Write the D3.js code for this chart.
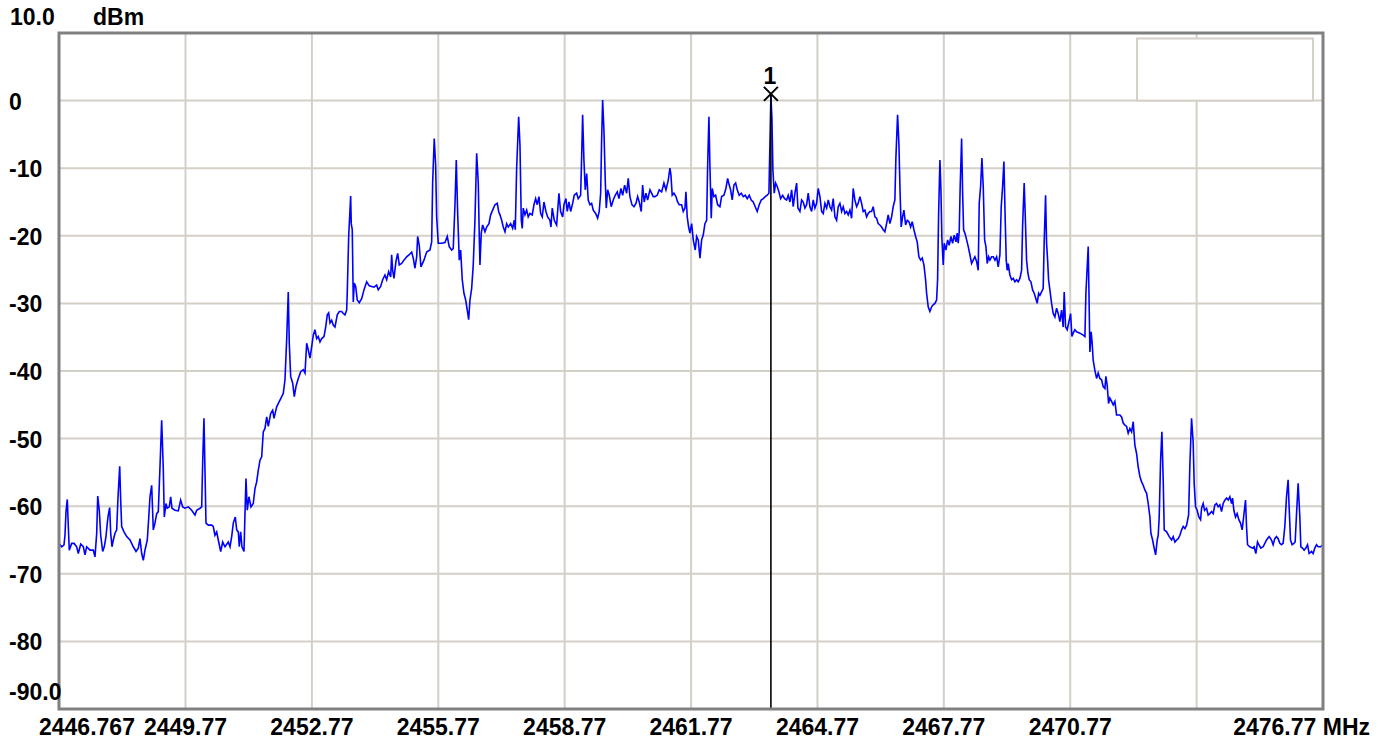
<!DOCTYPE html>
<html>
<head>
<meta charset="utf-8">
<script src="https://cdn.jsdelivr.net/npm/d3@7"></script>
<style>
  html, body { margin: 0; padding: 0; background: #ffffff; }
  svg { display: block; }
  text { font-family: "Liberation Sans", Arial, sans-serif; font-weight: bold; fill: #000; }
</style>
</head>
<body>
<script>
// ---------- data ----------
const freqStartMHz = 2446.767;
const freqStopMHz = 2476.77;
const levelTopDbm = 10;
const levelBottomDbm = -90;

const yTickValues = [0, -10, -20, -30, -40, -50, -60, -70, -80];
const yTopLabel = "10.0";
const yBottomLabel = "-90.0";
const yUnit = "dBm";

const xGridValues = [2449.77, 2452.77, 2455.77, 2458.77, 2461.77, 2464.77, 2467.77, 2470.77, 2473.77];
const xLabelValues = [2449.77, 2452.77, 2455.77, 2458.77, 2461.77, 2464.77, 2467.77, 2470.77];
const xFirstLabel = "2446.767";
const xLastLabel = "2476.77 MHz";

const markerName = "1";
const markerFreqMHz = 2463.665;
const markerLevelDbm = 1.0;

// trace: [frequency MHz, level dBm]
const traceLow = [
[2446.767,-65.5],[2446.831,-66.0],[2446.886,-65.7],[2446.909,-64.3],[2446.933,-60.8],[2446.964,-59.0],[2446.988,-63.0],[2447.011,-66.5],
[2447.068,-65.5],[2447.123,-65.5],[2447.187,-66.0],[2447.225,-67.0],[2447.282,-65.6],[2447.344,-66.0],[2447.384,-67.2],[2447.424,-66.0],
[2447.503,-66.5],[2447.581,-66.5],[2447.621,-67.5],[2447.662,-64.0],[2447.686,-58.5],[2447.723,-60.6],[2447.757,-64.3],[2447.804,-66.7],
[2447.842,-66.0],[2447.882,-64.5],[2447.913,-62.5],[2447.937,-61.3],[2447.970,-60.2],[2447.994,-64.0],[2448.025,-66.0],[2448.056,-65.0],
[2448.096,-64.0],[2448.136,-63.5],[2448.167,-58.8],[2448.208,-54.1],[2448.231,-59.1],[2448.255,-63.0],[2448.310,-63.8],[2448.374,-64.5],
[2448.452,-65.0],[2448.530,-66.0],[2448.595,-66.7],[2448.649,-66.2],[2448.689,-64.8],[2448.730,-67.0],[2448.768,-68.0],[2448.808,-66.5],
[2448.863,-65.0],[2448.896,-61.8],[2448.927,-58.6],[2448.967,-56.9],[2449.005,-63.5],[2449.045,-62.5],[2449.086,-61.1],[2449.124,-60.8],
[2449.164,-54.2],[2449.204,-47.3],[2449.242,-54.4],[2449.266,-61.6],[2449.307,-59.6],[2449.337,-60.3],[2449.385,-60.1],[2449.418,-58.6],
[2449.449,-60.3],[2449.520,-60.6],[2449.598,-60.7],[2449.655,-59.1],[2449.703,-60.1],[2449.757,-60.3],[2449.836,-60.1],[2449.916,-60.6],
[2449.995,-61.3],[2450.035,-60.6],[2450.114,-60.3],[2450.154,-60.1],[2450.178,-53.4],[2450.208,-47.0],[2450.232,-54.7],[2450.256,-62.5],
[2450.311,-62.8],[2450.391,-62.8],[2450.429,-63.0],[2450.469,-64.3],[2450.510,-63.8],[2450.548,-65.0],[2450.605,-66.7],[2450.652,-65.3],
[2450.707,-66.0],[2450.785,-65.3],[2450.826,-66.0],[2450.866,-64.5],[2450.904,-62.5],[2450.951,-61.6],[2450.985,-63.5],[2451.023,-63.8],
[2451.046,-66.0],[2451.079,-63.8],[2451.110,-66.0],[2451.158,-66.7],[2451.181,-61.3],[2451.205,-55.9],[2451.236,-60.6],[2451.276,-58.6],
[2451.324,-60.1],[2451.378,-59.6],[2451.419,-57.4],[2451.459,-56.4],[2451.497,-54.7],[2451.538,-53.2],[2451.578,-52.7],[2451.616,-49.0],
[2451.656,-48.5],[2451.697,-46.8],[2451.735,-48.2],[2451.791,-46.3],[2451.839,-45.8],[2451.870,-47.0],[2451.934,-45.3],[2452.012,-44.3]
];

const traceRise = [
[2452.091,-43.3],[2452.131,-41.3],[2452.171,-35.4],[2452.209,-28.3],[2452.233,-35.9],[2452.266,-40.8],[2452.314,-41.8],[2452.352,-43.8],
[2452.392,-42.3],[2452.447,-41.1],[2452.504,-40.1],[2452.565,-39.8],[2452.606,-40.3],[2452.646,-35.9],[2452.684,-36.9],[2452.724,-38.1],
[2452.765,-36.4],[2452.803,-34.7],[2452.843,-33.9],[2452.883,-35.2],[2452.921,-34.9],[2452.962,-35.7],[2453.002,-35.2],[2453.057,-34.9],
[2453.097,-33.5],[2453.135,-31.7],[2453.168,-31.4],[2453.199,-32.9],[2453.239,-32.5],[2453.277,-33.2],[2453.318,-33.5],[2453.372,-31.7],
[2453.420,-31.2],[2453.476,-31.2],[2453.515,-31.5],[2453.555,-31.7],[2453.595,-31.0],[2453.609,-28.5],[2453.643,-20.1],[2453.690,-14.1],
[2453.704,-18.2],[2453.728,-19.1],[2453.752,-29.8],[2453.776,-27.0],[2453.809,-27.5],[2453.847,-29.5],[2453.894,-29.9],[2453.951,-29.3],
[2454.006,-28.0],[2454.070,-26.8],[2454.132,-27.4],[2454.189,-27.5],[2454.243,-27.6],[2454.307,-27.3],[2454.345,-28.0],[2454.402,-27.5],
[2454.450,-26.5],[2454.504,-25.8],[2454.545,-26.5],[2454.592,-25.3],[2454.640,-26.1],[2454.663,-22.8],[2454.687,-25.1],[2454.718,-26.3],
[2454.765,-23.8],[2454.806,-22.6],[2454.844,-24.3],[2454.901,-24.1],[2454.955,-23.6],[2455.019,-23.1],[2455.081,-22.8],[2455.138,-22.4],
[2455.176,-23.3],[2455.216,-24.8],[2455.257,-23.1],[2455.280,-20.1],[2455.318,-21.4],[2455.358,-24.6]
];

const traceTopLeft = [
[2455.430,-23.6],[2455.494,-22.4],[2455.572,-22.1],[2455.613,-20.9],[2455.636,-12.2],[2455.674,-5.6],[2455.707,-9.5],[2455.731,-17.2],
[2455.769,-21.1],[2455.850,-21.1],[2455.928,-21.0],[2455.983,-20.1],[2456.030,-21.6],[2456.087,-22.1],[2456.125,-21.9],[2456.166,-15.4],
[2456.197,-8.8],[2456.230,-16.7],[2456.268,-23.6],[2456.301,-22.1],[2456.339,-26.5],[2456.379,-28.5],[2456.420,-29.5],[2456.458,-31.0],
[2456.491,-32.4],[2456.522,-29.5],[2456.562,-27.8],[2456.600,-24.3],[2456.640,-17.7],[2456.681,-7.8],[2456.719,-12.2],[2456.743,-20.1],
[2456.759,-24.3],[2456.790,-19.6],[2456.823,-18.4],[2456.878,-19.4],[2456.918,-18.7],[2456.973,-18.2],[2457.013,-16.9],[2457.060,-16.2],
[2457.115,-15.4],[2457.170,-15.2],[2457.203,-16.4],[2457.234,-16.9],[2457.274,-17.7],[2457.312,-18.7],[2457.353,-19.4],[2457.393,-18.2],
[2457.431,-18.7],[2457.488,-18.2],[2457.535,-18.9],[2457.573,-17.7],[2457.597,-19.1],[2457.630,-10.0],[2457.678,-2.4],[2457.709,-6.6],
[2457.740,-17.7],[2457.763,-18.9],[2457.787,-15.9],[2457.827,-16.9],[2457.868,-16.2],[2457.905,-17.2],[2457.946,-16.7],[2458.000,-16.9],
[2458.041,-15.4],[2458.081,-14.5],[2458.119,-15.4],[2458.159,-14.2],[2458.200,-16.7],[2458.238,-17.2],[2458.278,-15.0],[2458.325,-16.4],
[2458.366,-17.2],[2458.420,-17.7],[2458.444,-18.7],[2458.475,-15.9],[2458.523,-17.7],[2458.579,-18.4],[2458.634,-13.7],[2458.674,-16.4],
[2458.722,-17.2],[2458.753,-15.4],[2458.800,-14.5],[2458.831,-16.4],[2458.871,-15.0],[2458.912,-16.4],[2458.959,-15.2],[2458.997,-14.0],
[2459.054,-13.7],[2459.092,-14.5],[2459.149,-14.0],[2459.173,-8.3],[2459.196,-2.1],[2459.227,-8.8],[2459.258,-13.2],[2459.292,-10.8],
[2459.329,-14.7],[2459.370,-15.4],[2459.410,-15.2],[2459.448,-16.2],[2459.505,-16.7],[2459.552,-17.4],[2459.590,-16.4],[2459.624,-13.7],
[2459.647,-5.8],[2459.671,0.1],[2459.702,-4.4],[2459.733,-11.8],[2459.757,-15.9],[2459.790,-13.2],[2459.828,-14.0],[2459.875,-15.7],
[2459.923,-14.7],[2459.970,-14.0],[2460.018,-13.5],[2460.058,-14.5],[2460.105,-13.0],[2460.146,-14.0],[2460.193,-12.5],[2460.241,-13.7],
[2460.279,-11.5],[2460.319,-14.2],[2460.367,-15.4],[2460.414,-15.7],[2460.462,-15.2],[2460.502,-14.2],[2460.540,-15.0],[2460.587,-16.4],
[2460.620,-12.5],[2460.658,-15.0],[2460.699,-13.7],[2460.739,-14.7],[2460.794,-13.2],[2460.834,-13.7],[2460.872,-14.2],[2460.912,-14.2],
[2460.967,-14.0],[2461.014,-13.2],[2461.071,-13.5],[2461.126,-12.2],[2461.174,-13.2],[2461.228,-11.8],[2461.268,-10.0],[2461.292,-11.0],
[2461.323,-14.0],[2461.363,-13.7],[2461.411,-14.2],[2461.451,-15.0],[2461.489,-15.4],[2461.546,-15.4],[2461.584,-16.4],[2461.625,-15.9],
[2461.648,-13.5],[2461.679,-17.2],[2461.712,-18.7],[2461.743,-19.6],[2461.784,-18.2],[2461.822,-20.6],[2461.869,-22.1],[2461.902,-20.1],
[2461.940,-20.6],[2461.981,-23.3],[2462.021,-20.6],[2462.059,-19.9],[2462.099,-18.2],[2462.140,-17.7],[2462.163,-9.8],[2462.194,-2.4],
[2462.218,-9.8],[2462.249,-17.4],[2462.273,-13.0],[2462.313,-14.2],[2462.353,-14.0],[2462.400,-15.4],[2462.455,-15.7]
];

const traceTopRight = [
[2462.495,-14.2],[2462.550,-14.0],[2462.597,-13.0],[2462.638,-11.5],[2462.676,-12.5],[2462.709,-13.2],[2462.747,-14.7],[2462.787,-12.5],
[2462.828,-12.2],[2462.866,-13.2],[2462.913,-14.0],[2462.961,-13.7],[2463.008,-14.2],[2463.056,-14.0],[2463.103,-14.5],[2463.150,-14.0],
[2463.198,-14.7],[2463.245,-15.0],[2463.293,-15.7],[2463.340,-16.4],[2463.388,-15.4],[2463.435,-14.7],[2463.483,-14.5],[2463.530,-14.2],
[2463.578,-14.0],[2463.618,-13.7],[2463.642,-6.3],[2463.665,0.8],[2463.689,-2.6],[2463.713,-10.3],[2463.744,-13.7],[2463.777,-12.2],
[2463.815,-12.7],[2463.856,-13.5],[2463.896,-14.5],[2463.944,-14.0],[2463.991,-14.5],[2464.038,-14.7],[2464.076,-14.0],[2464.117,-15.0],
[2464.157,-13.2],[2464.195,-15.7],[2464.235,-13.7],[2464.276,-12.2],[2464.306,-15.9],[2464.354,-16.4],[2464.394,-14.7],[2464.432,-15.0],
[2464.473,-15.9],[2464.513,-15.4],[2464.551,-13.7],[2464.591,-15.7],[2464.632,-16.4],[2464.670,-14.7],[2464.710,-15.9],[2464.750,-15.2],
[2464.788,-13.0],[2464.829,-14.2],[2464.869,-16.4],[2464.907,-16.7],[2464.947,-15.2],[2464.988,-15.9],[2465.026,-14.7],[2465.066,-15.7],
[2465.106,-16.2],[2465.144,-14.5],[2465.185,-17.2],[2465.225,-17.7],[2465.263,-15.7],[2465.303,-15.2],[2465.344,-16.4],[2465.382,-15.7],
[2465.422,-16.7],[2465.462,-16.4],[2465.500,-16.9],[2465.541,-16.2],[2465.581,-17.4],[2465.619,-13.0],[2465.659,-14.7],[2465.700,-15.7],
[2465.737,-15.2],[2465.778,-14.2],[2465.818,-15.2],[2465.856,-16.4],[2465.896,-16.2],[2465.937,-17.2],[2465.975,-16.7],[2466.015,-16.4],
[2466.055,-16.4],[2466.093,-15.7],[2466.134,-17.2],[2466.174,-17.4],[2466.212,-18.2],[2466.252,-18.4],[2466.293,-18.7],[2466.331,-19.1],
[2466.371,-19.4],[2466.411,-18.2],[2466.449,-16.9],[2466.490,-18.2],[2466.530,-17.2],[2466.568,-15.7],[2466.608,-14.7],[2466.632,-8.5],
[2466.672,-2.1],[2466.703,-6.3],[2466.734,-14.2],[2466.758,-18.7]
];

const traceFall = [
[2466.791,-17.2],[2466.822,-16.2],[2466.863,-18.4],[2466.901,-17.7],[2466.941,-17.9],[2466.982,-18.7],[2467.019,-17.9],[2467.060,-19.1],
[2467.100,-20.1],[2467.138,-20.9],[2467.178,-23.1],[2467.219,-23.6],[2467.257,-23.3],[2467.297,-24.3],[2467.337,-26.5],[2467.361,-28.5],
[2467.399,-30.5],[2467.439,-31.2],[2467.480,-30.5],[2467.518,-30.2],[2467.558,-30.0],[2467.598,-29.5],[2467.622,-26.5],[2467.646,-16.7],
[2467.677,-8.8],[2467.700,-13.0],[2467.724,-20.4],[2467.755,-24.3],[2467.779,-21.1],[2467.819,-22.1],[2467.860,-20.6],[2467.897,-21.4],
[2467.938,-20.1],[2467.978,-21.1],[2468.016,-19.9],[2468.057,-20.9],[2468.087,-19.6],[2468.111,-21.1],[2468.135,-19.4],[2468.159,-12.5],
[2468.192,-5.6],[2468.216,-13.7],[2468.239,-19.1],[2468.270,-19.6],[2468.311,-20.6],[2468.349,-21.6],[2468.389,-22.8],[2468.429,-24.1],
[2468.467,-23.6],[2468.507,-23.1],[2468.548,-23.8],[2468.586,-25.1],[2468.610,-15.2],[2468.643,-12.7],[2468.674,-8.5],[2468.705,-12.7],
[2468.738,-20.6],[2468.769,-21.6],[2468.800,-24.1],[2468.833,-23.1],[2468.864,-23.6],[2468.905,-23.1],[2468.943,-23.1],[2468.983,-23.6],
[2469.023,-23.1],[2469.061,-24.6],[2469.101,-22.8],[2469.132,-15.7],[2469.165,-12.7],[2469.196,-9.0],[2469.227,-17.7],[2469.251,-23.6],
[2469.274,-25.1],[2469.298,-24.1],[2469.338,-25.8],[2469.379,-26.5],[2469.417,-26.3],[2469.457,-26.8],[2469.497,-26.5],[2469.535,-26.8],
[2469.575,-26.3],[2469.616,-25.1],[2469.639,-18.7],[2469.677,-12.2],[2469.701,-16.7],[2469.734,-23.6],[2469.765,-25.5],[2469.796,-26.5],
[2469.837,-26.8],[2469.877,-28.0],[2469.915,-28.5],[2469.955,-29.3],[2469.986,-30.0],[2470.019,-28.5],[2470.050,-28.8],[2470.090,-28.3],
[2470.128,-27.8],[2470.152,-20.9],[2470.185,-14.0],[2470.209,-21.1],[2470.233,-23.6],[2470.256,-26.5],[2470.287,-28.0],[2470.328,-30.0],
[2470.366,-31.5],[2470.406,-32.0],[2470.446,-30.7],[2470.484,-31.5],[2470.525,-32.7],[2470.565,-31.0],[2470.603,-33.5],[2470.627,-28.3],
[2470.660,-33.5],[2470.698,-33.9],[2470.746,-32.5],[2470.779,-31.5],[2470.810,-34.9],[2470.841,-34.4],[2470.881,-33.9],[2470.922,-34.2],
[2471.000,-34.4],[2471.078,-34.7],[2471.119,-34.9],[2471.142,-28.5],[2471.197,-21.6]
];

const traceHigh = [
[2471.237,-37.2],[2471.267,-34.2],[2471.291,-35.9],[2471.315,-38.4],[2471.355,-39.9],[2471.396,-41.1],[2471.434,-40.3],[2471.474,-41.1],
[2471.514,-41.3],[2471.552,-42.3],[2471.593,-42.6],[2471.616,-40.8],[2471.647,-42.1],[2471.680,-44.8],[2471.711,-44.0],[2471.752,-44.5],
[2471.790,-45.0],[2471.830,-44.5],[2471.870,-46.5],[2471.949,-46.5],[2471.989,-46.8],[2472.027,-47.7],[2472.068,-48.0],[2472.108,-48.2],
[2472.146,-49.2],[2472.186,-48.5],[2472.227,-49.0],[2472.265,-47.5],[2472.305,-51.0],[2472.345,-52.2],[2472.383,-54.2],[2472.424,-55.6],
[2472.464,-56.4],[2472.502,-56.9],[2472.542,-57.6],[2472.583,-58.1],[2472.621,-59.6],[2472.661,-61.6],[2472.685,-64.0],[2472.725,-65.0],
[2472.756,-66.0],[2472.797,-67.2],[2472.835,-65.0],[2472.859,-64.3],[2472.882,-61.6],[2472.915,-53.2],[2472.946,-49.0],[2472.977,-56.1],
[2473.001,-63.5],[2473.058,-63.8],[2473.120,-64.5],[2473.176,-65.0],[2473.214,-64.5],[2473.255,-65.3],[2473.295,-65.0],[2473.333,-64.8],
[2473.373,-64.3],[2473.414,-63.5],[2473.452,-63.0],[2473.492,-63.3],[2473.532,-62.8],[2473.580,-61.3],[2473.611,-53.7],[2473.650,-47.0],
[2473.688,-50.5],[2473.712,-56.6],[2473.745,-60.1],[2473.783,-60.6],[2473.823,-61.6],[2473.864,-62.0],[2473.888,-60.3],[2473.926,-59.6],
[2473.959,-60.6],[2474.006,-60.3],[2474.044,-61.3],[2474.085,-61.1],[2474.125,-60.8],[2474.163,-61.1],[2474.203,-59.8],[2474.243,-59.6],
[2474.281,-60.1],[2474.322,-59.8],[2474.362,-60.8],[2474.400,-59.6],[2474.440,-59.1],[2474.481,-58.8],[2474.519,-59.1],[2474.559,-58.6],
[2474.599,-59.6],[2474.623,-58.8],[2474.654,-60.6],[2474.694,-61.6],[2474.732,-61.1],[2474.772,-62.0],[2474.813,-62.5],[2474.851,-63.5],
[2474.891,-61.3],[2474.931,-59.1],[2474.955,-63.0],[2474.979,-65.7],[2475.033,-66.0],[2475.097,-66.2],[2475.135,-66.0],[2475.176,-67.0],
[2475.216,-65.3],[2475.247,-65.7],[2475.294,-66.2],[2475.349,-66.0],[2475.430,-65.0],[2475.491,-64.5],[2475.548,-65.0],[2475.586,-65.7],
[2475.626,-64.8],[2475.667,-64.5],[2475.705,-64.8],[2475.745,-65.5],[2475.785,-65.7],[2475.823,-65.5],[2475.864,-63.0],[2475.904,-58.6],
[2475.942,-56.1],[2475.966,-60.1],[2475.999,-65.0],[2476.037,-65.7],[2476.078,-65.5],[2476.109,-65.3],[2476.142,-61.1],[2476.180,-56.6],
[2476.220,-61.6],[2476.244,-66.0],[2476.284,-66.2],[2476.322,-66.5],[2476.362,-66.2],[2476.403,-65.7],[2476.441,-67.0],[2476.497,-66.7],
[2476.535,-67.0],[2476.576,-66.2],[2476.616,-65.7],[2476.654,-66.0],[2476.711,-66.0],[2476.770,-65.7]
];

const trace = [].concat(traceLow, traceRise, traceTopLeft, traceTopRight, traceFall, traceHigh);

// ---------- layout ----------
const W = 1389, H = 743;
const plot = { left: 59, right: 1323, top: 33, bottom: 709 };
const gridColor = "#d4d0c8";
const frameColor = "#808080";
const fontSize = 23;

const svg = d3.select("body").append("svg").attr("width", W).attr("height", H);
svg.append("rect").attr("width", W).attr("height", H).attr("fill", "#fff");

const x = d3.scaleLinear().domain([freqStartMHz, freqStopMHz]).range([plot.left, plot.right]);
const y = d3.scaleLinear().domain([levelBottomDbm, levelTopDbm]).range([plot.bottom, plot.top]);

// grid
const grid = svg.append("g");
grid.selectAll("line.v").data(xGridValues).enter().append("line")
  .attr("x1", d => x(d)).attr("x2", d => x(d))
  .attr("y1", plot.top).attr("y2", plot.bottom)
  .attr("stroke", gridColor).attr("stroke-width", 2);
grid.selectAll("line.h").data(yTickValues).enter().append("line")
  .attr("x1", plot.left).attr("x2", plot.right)
  .attr("y1", d => y(d)).attr("y2", d => y(d))
  .attr("stroke", gridColor).attr("stroke-width", 2);

// empty legend box (top right)
svg.append("rect")
  .attr("x", 1137).attr("y", 38.5)
  .attr("width", 176).attr("height", y(0) - 38.5)
  .attr("fill", "#fff").attr("stroke", gridColor).attr("stroke-width", 2);

// trace
const line = d3.line().x(d => x(d[0])).y(d => y(d[1]));
svg.append("path").datum(trace)
  .attr("d", line)
  .attr("fill", "none")
  .attr("stroke", "#0000ff")
  .attr("stroke-width", 1.6)
  .attr("stroke-linejoin", "miter");

// marker
const mx = x(markerFreqMHz), my = y(markerLevelDbm);
svg.append("line").attr("x1", mx).attr("x2", mx).attr("y1", my).attr("y2", plot.bottom)
  .attr("stroke", "#000").attr("stroke-width", 1.6);
const s = 7;
svg.append("path")
  .attr("d", `M${mx - s},${my - s}L${mx + s},${my + s}M${mx - s},${my + s}L${mx + s},${my - s}`)
  .attr("stroke", "#000").attr("stroke-width", 2).attr("fill", "none");
svg.append("text").attr("x", mx - 1).attr("y", my - 10)
  .attr("text-anchor", "middle").style("font-size", fontSize + "px").text(markerName);

// frame
svg.append("rect")
  .attr("x", plot.left).attr("y", plot.top)
  .attr("width", plot.right - plot.left).attr("height", plot.bottom - plot.top)
  .attr("fill", "none").attr("stroke", frameColor).attr("stroke-width", 3);

// y labels
const yl = svg.append("g").style("font-size", fontSize + "px");
yl.selectAll("text.t").data(yTickValues).enter().append("text")
  .attr("x", 9).attr("y", d => y(d) + 9)
  .text(d => d3.format("d")(d).replace("−", "-"));
yl.append("text").attr("x", 10).attr("y", plot.top - 8).text(yTopLabel);
yl.append("text").attr("x", 93).attr("y", plot.top - 8).text(yUnit);
yl.append("text").attr("x", 9).attr("y", plot.bottom - 9).text(yBottomLabel);

// x labels
const xl = svg.append("g").style("font-size", fontSize + "px");
xl.selectAll("text.t").data(xLabelValues).enter().append("text")
  .attr("x", d => x(d)).attr("y", plot.bottom + 26)
  .attr("text-anchor", "middle").text(d => d.toFixed(2));
xl.append("text").attr("x", x(freqStartMHz) - 20).attr("y", plot.bottom + 26).text(xFirstLabel);
xl.append("text").attr("x", W - 19).attr("y", plot.bottom + 26).attr("text-anchor", "end").text(xLastLabel);
</script>
</body>
</html>
